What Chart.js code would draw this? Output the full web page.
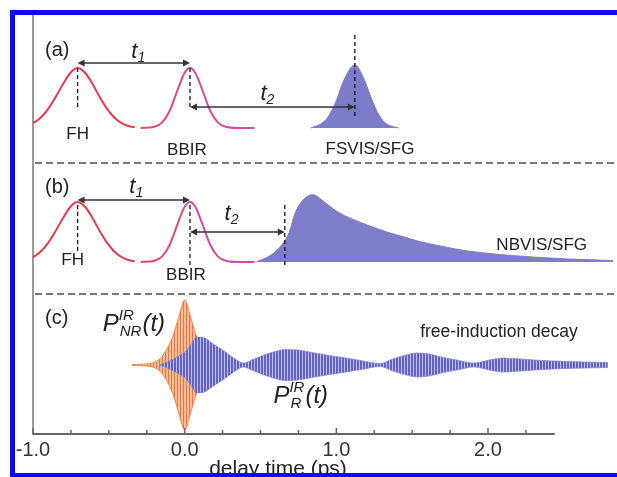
<!DOCTYPE html>
<html><head><meta charset="utf-8">
<script src="https://cdn.jsdelivr.net/npm/chart.js@4.4.1/dist/chart.umd.min.js"></script>
<style>
html,body{margin:0;padding:0;background:#fff;overflow:hidden}
#wrap{position:relative;width:617px;height:477px}
#c{position:absolute;left:0;top:0}
#frame{position:absolute;left:10px;top:10px;width:700px;height:458px;border:5px solid #0a0aff;pointer-events:none}
</style></head>
<body><div id="wrap"><canvas id="c" width="617" height="477" style="width:617px;height:477px"></canvas><div id="frame"></div></div>
<script>
// ---- data (time in ps, relative signal level) ----
const fhTime   = [-1.00,-0.95,-0.90,-0.85,-0.80,-0.75,-0.706,-0.65,-0.60,-0.55,-0.50,-0.45,-0.40,-0.36,-0.33];
const fhLevel  = [0.08, 0.17, 0.32, 0.52, 0.74, 0.93, 1.00, 0.90, 0.70, 0.47, 0.28, 0.14, 0.06, 0.025,0.015];
const bbirTime  = [-0.29,-0.20,-0.15,-0.10,-0.05,0.00,0.035,0.07,0.12,0.17,0.22,0.27,0.35,0.46];
const bbirLevel = [0.00, 0.02, 0.09, 0.28, 0.61, 0.92,1.00, 0.92,0.61,0.28,0.09,0.02,0.00,0.00];
const fsvisTime  = [0.83,0.90,0.95,1.00,1.05,1.122,1.18,1.23,1.28,1.33,1.41];
const fsvisLevel = [0.00,0.07,0.20,0.46,0.80,1.05, 0.83,0.50,0.22,0.07,0.00];
const nbvisTime  = [0.473,0.572,0.651,0.69,0.729,0.795,0.848,0.881,0.946,1.012,1.10,1.222,1.333,1.444,1.55,1.66,1.77,1.876,2.00,2.098,2.20,2.314,2.42,2.529,2.65,2.75,2.824];
const nbvisLevel = [0.00, 0.12, 0.32, 0.50,0.82, 1.07, 1.12, 1.08, 0.95, 0.83, 0.72,0.60, 0.50, 0.42, 0.34,0.28,0.225,0.18,0.145,0.12,0.10,0.08, 0.065,0.05, 0.04,0.03,0.025];
const nrTime     = [-0.346,-0.235,-0.17,-0.137,-0.105,-0.072,-0.039,0.00,0.039,0.072,0.105,0.137,0.17,0.21];
const nrEnvelope = [0.008, 0.02,  0.08, 0.17,  0.30,  0.48,  0.74,  1.00,0.74, 0.48, 0.29, 0.15, 0.06, 0.00];
const fidTime     = [-0.168,-0.103,-0.037,0.002,0.041,0.08,0.126,0.191,0.257,0.322,0.388,0.454,0.519,0.585,0.663,0.748,0.846,0.944,1.043,1.16,1.29,1.369,1.454,1.532,1.611,1.696,1.794,1.906,2.01,2.102,2.22,2.351,2.515,2.646,2.79];
const fidEnvelope = [0.00, 0.06, 0.14, 0.20, 0.31, 0.43,0.42, 0.32, 0.22, 0.11, 0.03, 0.09, 0.15, 0.20, 0.24, 0.23, 0.19, 0.15, 0.115,0.07,0.023,0.09, 0.15, 0.185,0.17, 0.12, 0.077,0.03, 0.077,0.108,0.092,0.07,0.054,0.046,0.038];
const xTickValues = [-1, 0, 1, 2];
const xTickLabels = ['-1.0', '0.0', '1.0', '2.0'];
const xAxisTitle = 'delay time (ps)';

// ---- layout of the three stacked panels (y scale units) ----
const A_BASE = 306, B_BASE = 172, C_MID = 69, AB_AMP = 60, C_AMP = 65;
const FONT = '"Liberation Sans", Arial, Helvetica, sans-serif';

function pts(ts, vs, base, amp, sign) {
  return ts.map((t, i) => ({x: t, y: base + (sign || 1) * amp * vs[i]}));
}
function stripes(dark, light, period, darkW) {
  const c = document.createElement('canvas'); c.width = period; c.height = 4;
  const g = c.getContext('2d');
  g.fillStyle = light; g.fillRect(0, 0, period, 4);
  g.fillStyle = dark; g.fillRect(0, 0, darkW, 4);
  return g.createPattern(c, 'repeat');
}
const bluePattern = stripes('rgba(100,100,200,1)', 'rgba(190,190,236,1)', 3, 2);
const orangePattern = stripes('rgba(228,108,52,0.85)', 'rgba(246,160,108,0.7)', 3, 1);

function bbirColor(context) {
  const ch = context.chart;
  if (!ch.chartArea) return '#d9489c';
  const xs = ch.scales.x;
  const g = ch.ctx.createLinearGradient(xs.getPixelForValue(-0.3), 0, xs.getPixelForValue(0.12), 0);
  g.addColorStop(0, '#e8485e'); g.addColorStop(1, '#d54aa6');
  return g;
}
const lineBase = {pointRadius: 0, borderWidth: 2, fill: false, cubicInterpolationMode: 'monotone'};

const datasets = [
  Object.assign({}, lineBase, {label: 'FSVIS/SFG', data: pts(fsvisTime, fsvisLevel, A_BASE, AB_AMP), fill: {value: A_BASE}, backgroundColor: '#7b7bc9', borderColor: '#7b7bc9', borderWidth: 1}),
  Object.assign({}, lineBase, {label: 'FH a', data: pts(fhTime, fhLevel, A_BASE, AB_AMP), borderColor: '#e63a4c'}),
  Object.assign({}, lineBase, {label: 'BBIR a', data: pts(bbirTime, bbirLevel, A_BASE, AB_AMP), borderColor: bbirColor}),
  Object.assign({}, lineBase, {label: 'NBVIS/SFG', data: pts(nbvisTime, nbvisLevel, B_BASE, AB_AMP), fill: {value: B_BASE}, backgroundColor: '#7d7dca', borderColor: '#7d7dca', borderWidth: 1}),
  Object.assign({}, lineBase, {label: 'FH b', data: pts(fhTime, fhLevel, B_BASE, AB_AMP), borderColor: '#e63a4c'}),
  Object.assign({}, lineBase, {label: 'BBIR b', data: pts(bbirTime, bbirLevel, B_BASE, AB_AMP), borderColor: bbirColor}),
  Object.assign({}, lineBase, {label: 'FID +', data: pts(fidTime, fidEnvelope, C_MID, C_AMP, 1), borderColor: 'rgba(130,130,210,0.9)', borderWidth: 0.8}),
  Object.assign({}, lineBase, {label: 'FID -', data: pts(fidTime, fidEnvelope, C_MID, C_AMP, -1), borderColor: 'rgba(130,130,210,0.9)', borderWidth: 0.8, fill: '-1', backgroundColor: bluePattern}),
  Object.assign({}, lineBase, {label: 'NR +', data: pts(nrTime, nrEnvelope, C_MID, C_AMP, 1), borderColor: 'rgba(236,126,66,0.9)', borderWidth: 1}),
  Object.assign({}, lineBase, {label: 'NR -', data: pts(nrTime, nrEnvelope, C_MID, C_AMP, -1), borderColor: 'rgba(236,126,66,0.9)', borderWidth: 1, fill: '-1', backgroundColor: orangePattern})
];

// annotation positions (x in ps, y in scale units)
const vDashes = [[-0.706, 366, 324], [0.035, 366, 324], [1.122, 399, 317], [-0.706, 229, 182], [0.035, 229, 166], [0.66, 229, 167]];
const arrows = [[-0.706, 0.035, 371], [0.035, 1.122, 327], [-0.706, 0.035, 234], [0.035, 0.66, 202]];
const separators = [271, 140];
const texts = [
  ['(a)', -0.921, 384, 20, 'left'], ['FH', -0.706, 300, 17, 'center'], ['BBIR', 0.015, 284, 17, 'center'], ['FSVIS/SFG', 1.222, 285, 17, 'center'],
  ['(b)', -0.921, 247, 20, 'left'], ['FH', -0.739, 174, 17, 'center'], ['BBIR', 0.008, 159, 17, 'center'], ['NBVIS/SFG', 2.354, 189, 17, 'center'],
  ['(c)', -0.921, 116, 20, 'left'], ['free-induction decay', 2.072, 102, 17.5, 'center']
];
const tLabels = [['1', -0.352, 376], ['1', -0.365, 241], ['2', 0.50, 334], ['2', 0.263, 214]];
const pLabels = [['IR', 'NR', -0.54, 103], ['IR', 'R', 0.585, 31]];

const decor = {
  id: 'decor',
  afterDatasetsDraw(chart) {
    const ctx = chart.ctx, xs = chart.scales.x, ys = chart.scales.y, area = chart.chartArea;
    const X = v => xs.getPixelForValue(v), Y = v => ys.getPixelForValue(v);
    ctx.save();
    // panel separators
    ctx.strokeStyle = '#4a4a4a'; ctx.lineWidth = 1.5; ctx.setLineDash([7, 4]);
    separators.forEach(s => { ctx.beginPath(); ctx.moveTo(area.left + 2, Y(s)); ctx.lineTo(chart.width, Y(s)); ctx.stroke(); });
    // vertical dashed markers
    ctx.strokeStyle = '#222'; ctx.lineWidth = 1.4; ctx.setLineDash([4, 3]);
    vDashes.forEach(d => { ctx.beginPath(); ctx.moveTo(X(d[0]), Y(d[1])); ctx.lineTo(X(d[0]), Y(d[2])); ctx.stroke(); });
    ctx.setLineDash([]);
    // double-headed arrows
    ctx.strokeStyle = '#333'; ctx.fillStyle = '#333'; ctx.lineWidth = 1.5;
    arrows.forEach(a => {
      const x1 = X(a[0]), x2 = X(a[1]), y = Y(a[2]);
      ctx.beginPath(); ctx.moveTo(x1 + 2, y); ctx.lineTo(x2 - 2, y); ctx.stroke();
      ctx.beginPath(); ctx.moveTo(x1, y); ctx.lineTo(x1 + 7, y - 3.5); ctx.lineTo(x1 + 7, y + 3.5); ctx.closePath(); ctx.fill();
      ctx.beginPath(); ctx.moveTo(x2, y); ctx.lineTo(x2 - 7, y - 3.5); ctx.lineTo(x2 - 7, y + 3.5); ctx.closePath(); ctx.fill();
    });
    // x axis line with inward ticks
    const y0 = area.bottom;
    ctx.strokeStyle = '#666'; ctx.lineWidth = 2;
    ctx.beginPath(); ctx.moveTo(X(-1), y0); ctx.lineTo(X(2.44), y0); ctx.stroke();
    ctx.lineWidth = 1.5;
    xs.ticks.forEach(t => {
      if (t.value > 2.3) return;
      const len = xTickValues.includes(t.value) ? 6 : 4;
      ctx.beginPath(); ctx.moveTo(X(t.value), y0); ctx.lineTo(X(t.value), y0 - len); ctx.stroke();
    });
    // texts
    ctx.fillStyle = '#222'; ctx.textBaseline = 'middle';
    texts.forEach(t => { ctx.font = t[3] + 'px ' + FONT; ctx.textAlign = t[4]; ctx.fillText(t[0], X(t[1]), Y(t[2])); });
    ctx.textAlign = 'left'; ctx.textBaseline = 'alphabetic';
    tLabels.forEach(t => {
      const x = X(t[1]), y = Y(t[2]);
      ctx.font = 'italic 22px ' + FONT; ctx.fillText('t', x, y);
      const w = ctx.measureText('t').width;
      ctx.font = 'italic 14px ' + FONT; ctx.fillText(t[0], x + w, y + 4);
    });
    pLabels.forEach(p => {
      const x = X(p[2]), y = Y(p[3]);
      ctx.font = 'italic 24px ' + FONT; ctx.fillText('P', x, y);
      const wP = ctx.measureText('P').width;
      ctx.font = 'italic 15px ' + FONT;
      ctx.fillText(p[0], x + wP, y - 11);
      const wSup = ctx.measureText(p[0]).width;
      ctx.fillText(p[1], x + wP + 1, y + 5);
      const wSub = ctx.measureText(p[1]).width + 1;
      ctx.font = 'italic 24px ' + FONT;
      ctx.fillText('(t)', x + wP + Math.max(wSup, wSub) + 1, y);
    });
    // axis title
    ctx.font = '21px ' + FONT; ctx.textAlign = 'center'; ctx.fillStyle = '#222';
    ctx.fillText(xAxisTitle, 278, 475);
    ctx.restore();
  }
};

new Chart(document.getElementById('c'), {
  type: 'line',
  data: {datasets},
  options: {
    responsive: false, animation: false, devicePixelRatio: 1,
    layout: {padding: {left: 0, right: 0, top: 15, bottom: 0}},
    plugins: {legend: {display: false}, tooltip: {enabled: false}},
    scales: {
      x: {
        type: 'linear', min: -1, max: 2.824,
        grid: {display: false, drawTicks: false},
        border: {display: false},
        ticks: {stepSize: 0.25, autoSkip: false, maxRotation: 0, padding: 4, color: '#333',
                font: {size: 20, family: FONT},
                callback: v => { const i = xTickValues.indexOf(v); return i >= 0 ? xTickLabels[i] : ''; }},
        afterFit: s => { s.height = 43; }
      },
      y: {
        type: 'linear', min: 0, max: 419,
        grid: {display: false, drawTicks: false},
        border: {display: true, color: '#9a9a9a', width: 2},
        ticks: {display: false},
        afterFit: s => { s.width = 33; }
      }
    }
  },
  plugins: [decor]
});
</script>
</body></html>
